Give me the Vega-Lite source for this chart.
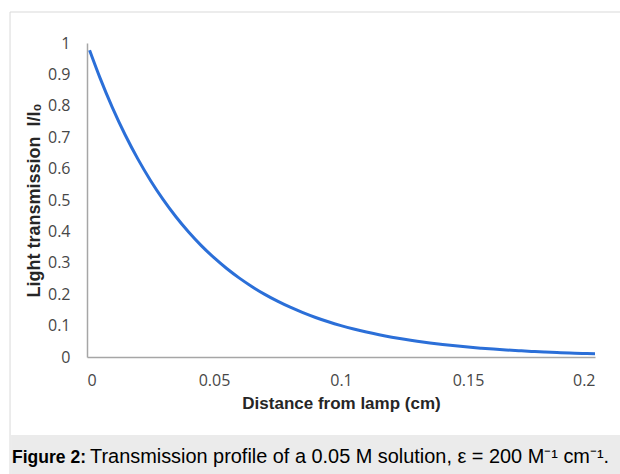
{
  "$schema": "https://vega.github.io/schema/vega-lite/v6.json",
  "autosize": {"type": "none"},
  "width": 508,
  "height": 314,
  "padding": {"left": 87, "top": 43, "right": 25, "bottom": 117},
  "background": "white",
  "config": {"view": {"stroke": null}, "axis": {"labelOverlap": false}},
  "layer": [
    {
      "data": {"values": [
        {"d": 0.001, "t": 0.9772}, {"d": 0.005, "t": 0.8913}, {"d": 0.01, "t": 0.7943},
        {"d": 0.015, "t": 0.7079}, {"d": 0.02, "t": 0.631}, {"d": 0.025, "t": 0.5623},
        {"d": 0.03, "t": 0.5012}, {"d": 0.035, "t": 0.4467}, {"d": 0.04, "t": 0.3981},
        {"d": 0.045, "t": 0.3548}, {"d": 0.05, "t": 0.3162}, {"d": 0.055, "t": 0.2818},
        {"d": 0.06, "t": 0.2512}, {"d": 0.065, "t": 0.2239}, {"d": 0.07, "t": 0.1995},
        {"d": 0.075, "t": 0.1778}, {"d": 0.08, "t": 0.1585}, {"d": 0.085, "t": 0.1413},
        {"d": 0.09, "t": 0.1259}, {"d": 0.095, "t": 0.1122}, {"d": 0.1, "t": 0.1},
        {"d": 0.105, "t": 0.0891}, {"d": 0.11, "t": 0.0794}, {"d": 0.115, "t": 0.0708},
        {"d": 0.12, "t": 0.0631}, {"d": 0.125, "t": 0.0562}, {"d": 0.13, "t": 0.0501},
        {"d": 0.135, "t": 0.0447}, {"d": 0.14, "t": 0.0398}, {"d": 0.145, "t": 0.0355},
        {"d": 0.15, "t": 0.0316}, {"d": 0.155, "t": 0.0282}, {"d": 0.16, "t": 0.0251},
        {"d": 0.165, "t": 0.0224}, {"d": 0.17, "t": 0.02}, {"d": 0.175, "t": 0.0178},
        {"d": 0.18, "t": 0.0158}, {"d": 0.185, "t": 0.0141}, {"d": 0.19, "t": 0.0126},
        {"d": 0.195, "t": 0.0112}, {"d": 0.2, "t": 0.01}
      ]},
      "mark": {"type": "line", "color": "#2b6fd8", "strokeWidth": 3, "interpolate": "monotone"},
      "encoding": {
        "x": {
          "field": "d", "type": "quantitative",
          "scale": {"domain": [0, 0.2], "nice": false, "zero": false},
          "axis": {
            "title": "Distance from lamp (cm)",
            "values": [0, 0.05, 0.1, 0.15, 0.2],
            "tickCount": 5,
            "format": "~g",
            "grid": false, "ticks": false, "tickSize": 0,
            "labelOverlap": false,
            "domainColor": "#a6a6a6", "domainWidth": 1.5,
            "labelFont": "Open Sans", "labelFontSize": 16, "labelColor": "#474747",
            "labelPadding": 15,
            "titleFont": "Liberation Sans", "titleFontSize": 17, "titleFontWeight": "bold",
            "titleColor": "#262626", "titlePadding": 7
          }
        },
        "y": {
          "field": "t", "type": "quantitative",
          "scale": {"domain": [0, 1], "nice": false},
          "axis": {
            "title": "Light transmission \u00a0I/I₀",
            "values": [0, 0.1, 0.2, 0.3, 0.4, 0.5, 0.6, 0.7, 0.8, 0.9, 1],
            "tickCount": 11,
            "format": "~g",
            "grid": false, "ticks": false, "tickSize": 0,
            "labelOverlap": false,
            "domainColor": "#a6a6a6", "domainWidth": 1.5,
            "labelFont": "Open Sans", "labelFontSize": 16, "labelColor": "#474747",
            "labelPadding": 17,
            "titleFont": "Liberation Sans", "titleFontSize": 18, "titleFontWeight": "bold",
            "titleColor": "#262626", "titlePadding": 4
          }
        }
      }
    },
    {
      "data": {"values": [{"part": "caption band"}]},
      "mark": {"type": "rect", "color": "#ebebeb"},
      "encoding": {
        "x": {"datum": -0.0299, "type": "quantitative"},
        "x2": {"datum": 0.2099},
        "y": {"datum": -0.2484, "type": "quantitative"},
        "y2": {"datum": -0.3727}
      }
    },
    {
      "data": {"values": [{"part": "left border"}]},
      "mark": {"type": "rule", "color": "#d9d9d9", "strokeWidth": 1},
      "encoding": {
        "x": {"datum": -0.0303, "type": "quantitative"},
        "y": {"datum": 1.0987, "type": "quantitative"},
        "y2": {"datum": -0.3727}
      }
    },
    {
      "data": {"values": [{"part": "top border"}]},
      "mark": {"type": "rule", "color": "#d9d9d9", "strokeWidth": 1},
      "encoding": {
        "x": {"datum": -0.0303, "type": "quantitative"},
        "x2": {"datum": 0.2099},
        "y": {"datum": 1.0987, "type": "quantitative"}
      }
    },
    {
      "data": {"values": [{"label": "Figure 2:"}]},
      "mark": {"type": "text", "font": "Liberation Sans", "fontSize": 17.5, "fontWeight": "bold", "align": "left", "baseline": "alphabetic", "color": "#000000"},
      "encoding": {
        "x": {"datum": -0.0295, "type": "quantitative"},
        "y": {"datum": -0.3376, "type": "quantitative"},
        "text": {"field": "label"}
      }
    },
    {
      "data": {"values": [{"label": "Transmission profile of a 0.05 M solution, ε = 200 M⁻¹ cm⁻¹."}]},
      "mark": {"type": "text", "font": "Liberation Sans", "fontSize": 19.9, "align": "left", "baseline": "alphabetic", "color": "#000000"},
      "encoding": {
        "x": {"datum": 0.0012, "type": "quantitative"},
        "y": {"datum": -0.3376, "type": "quantitative"},
        "text": {"field": "label"}
      }
    }
  ]
}
